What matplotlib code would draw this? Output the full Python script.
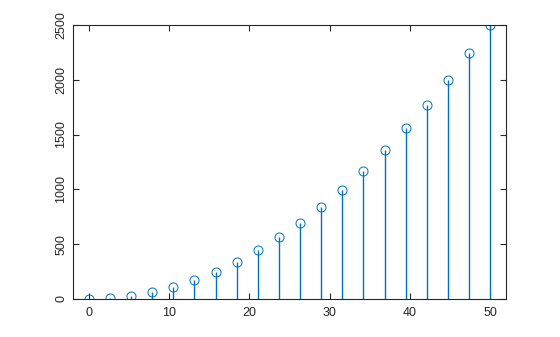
import numpy as np
import matplotlib
matplotlib.use("Agg")
import matplotlib.pyplot as plt

plt.rcParams['font.family'] = ['Liberation Sans', 'DejaVu Sans']

# data
x_vals = [0, 2.632, 5.263, 7.895, 10.526, 13.158, 15.789, 18.421, 21.053, 23.684,
          26.316, 28.947, 31.579, 34.211, 36.842, 39.474, 42.105, 44.737, 47.368, 50]
y_vals = [0, 6.9, 27.7, 62.3, 110.8, 173.1, 249.3, 339.3, 443.2, 560.9,
          692.5, 838.0, 997.2, 1170.4, 1357.3, 1558.2, 1772.9, 2001.4, 2243.8, 2500]
x_ticks = [0, 10, 20, 30, 40, 50]
y_ticks = [0, 500, 1000, 1500, 2000, 2500]

blue = "#0072BD"

fig = plt.figure(figsize=(5.6, 3.37), dpi=100)
ax = fig.add_axes([0.130, 0.113, 0.774, 0.813])

markers, stems, base = ax.stem(x_vals, y_vals)
plt.setp(stems, color=blue, linewidth=1.0)
plt.setp(markers, marker='o', markersize=6.5, markerfacecolor='none',
         markeredgecolor=blue, markeredgewidth=0.7)
base.set_visible(False)

ax.set_xlim(-2, 52)
ax.set_ylim(0, 2500)
ax.set_xticks(x_ticks)
ax.set_yticks(y_ticks)
ax.set_yticklabels([str(v) for v in y_ticks], rotation=90, va='center')

ax.tick_params(direction='in', length=4, width=0.8, top=True, right=True,
               labelsize=9, colors='#262626')
ax.tick_params(axis='x', pad=6)
ax.tick_params(axis='y', pad=4)
for s in ax.spines.values():
    s.set_color('#262626')
    s.set_linewidth(0.8)

fig.savefig("out.png", dpi=100)
